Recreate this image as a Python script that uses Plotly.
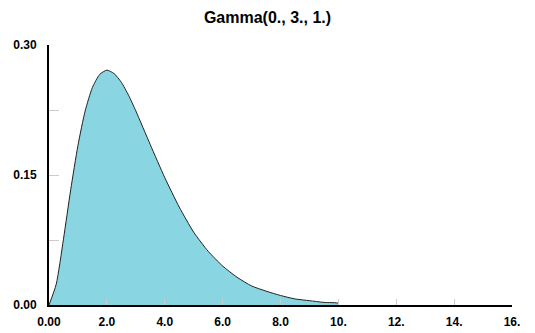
import plotly.graph_objects as go

# values
x_vals = [0.0, 0.25, 0.5, 0.75, 1.0, 1.25, 1.5, 1.75, 2.0, 2.25, 2.5, 2.75, 3.0,
          3.5, 4.0, 4.5, 5.0, 5.5, 6.0, 6.5, 7.0, 7.5, 8.0, 8.5, 9.0, 9.5, 10.0]
density = [0.0, 0.024, 0.076, 0.133, 0.184, 0.224, 0.251, 0.266, 0.271, 0.267, 0.257,
           0.242, 0.224, 0.185, 0.147, 0.113, 0.084, 0.062, 0.045, 0.032, 0.022,
           0.016, 0.011, 0.007, 0.005, 0.003, 0.002]

x_tickvals = [0, 2, 4, 6, 8, 10, 12, 14, 16]
x_ticktext = ["0.00", "2.0", "4.0", "6.0", "8.0", "10.", "12.", "14.", "16."]
y_tickvals = [0.0, 0.075, 0.15, 0.225, 0.30]
y_ticktext = ["0.00", "", "0.15", "", "0.30"]

fig = go.Figure()
fig.add_trace(go.Scatter(
    x=x_vals + [x_vals[-1]], y=density + [0.0],
    mode="lines", fill="tozeroy", fillcolor="#8AD5E2",
    line=dict(color="#222222", width=1, shape="spline", smoothing=0.6),
    hoverinfo="skip", showlegend=False,
))

fam = "Liberation Sans, Arial, sans-serif"
fig.update_layout(
    width=535, height=333,
    margin=dict(l=49, r=23, t=45, b=28),
    paper_bgcolor="white", plot_bgcolor="white",
    title=dict(text="Gamma(0., 3., 1.)", x=0.5, xanchor="center",
               y=1 - 17 / 333, yanchor="middle",
               font=dict(size=16, family=fam, color="black", weight="bold")),
    xaxis=dict(range=[0, 16], tickvals=x_tickvals, ticktext=x_ticktext,
               showgrid=False, zeroline=False, automargin=False,
               showline=True, linecolor="black", linewidth=2,
               ticks="inside", ticklen=6, tickcolor="#cccccc", tickwidth=1,
               ticklabelstandoff=5,
               tickfont=dict(size=12, family=fam, color="black", weight="bold")),
    yaxis=dict(range=[0, 0.30], tickvals=y_tickvals, ticktext=y_ticktext,
               showgrid=False, zeroline=False, automargin=False,
               showline=True, linecolor="black", linewidth=2,
               ticks="inside", ticklen=10, tickcolor="#cccccc", tickwidth=1,
               ticklabelstandoff=8,
               tickfont=dict(size=12, family=fam, color="black", weight="bold")),
)
fig.write_html("out.html")
